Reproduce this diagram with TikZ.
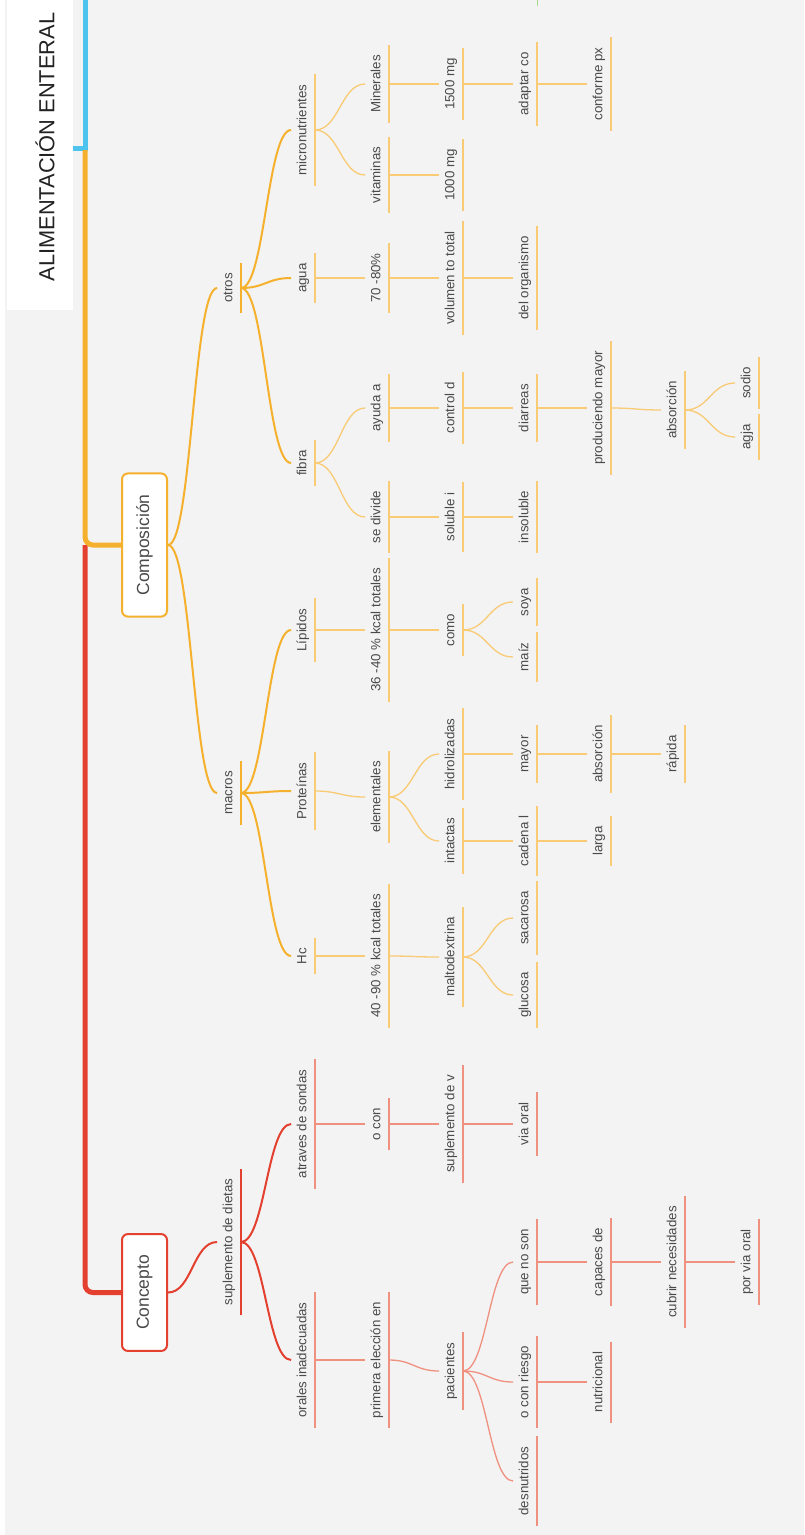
\documentclass[tikz,border=0pt]{standalone}
\usepackage{fontspec}
\setmainfont{Liberation Sans}
\usepackage{xcolor}

\definecolor{bggray}{HTML}{F3F3F3}
\definecolor{labeltxt}{HTML}{4A4A4A}
\definecolor{titletxt}{HTML}{222222}
\definecolor{trunkblue}{HTML}{4EC3EE}
\definecolor{orng}{HTML}{F5B12E}
\definecolor{orngpale}{HTML}{F8CB74}
\definecolor{redd}{HTML}{E3402F}
\definecolor{redpale}{HTML}{F0907F}
\definecolor{tickgreen}{HTML}{A9DB8E}

\begin{document}
\begin{tikzpicture}[x=1pt,y=-1pt,
  topic/.style={rotate=90,anchor=south,text=labeltxt,font=\fontsize{13.3}{15}\selectfont,
    inner xsep=10pt,inner ysep=5.5pt,text height=9.5pt,text depth=3pt},
  bar/.style 2 args={topic,append after command={(\tikzlastnode.south west) edge[draw=#1,line width=#2] (\tikzlastnode.south east)}},
  ohi/.style={bar={orng}{2pt}},
  olo/.style={bar={orngpale}{1.3pt}},
  rhi/.style={bar={redd}{2pt}},
  rlo/.style={bar={redpale}{1.3pt}},
  hub/.style={rotate=90,draw=#1,fill=white,line width=2pt,rounded corners=6pt,text=labeltxt,
    font=\fontsize{17.5}{20}\selectfont,inner xsep=21pt,minimum height=45pt},
  link/.style={line width=#1,to path={.. controls +(24,0) and +(-24,0) .. (\tikztotarget)}},
  ol/.style={draw=orng,link=2pt},
  olp/.style={draw=orngpale,link=1.3pt},
  rl/.style={draw=redd,link=2pt},
  rlp/.style={draw=redpale,link=1.3pt},
  trunk/.style={draw=#1,line width=5pt,rounded corners=8pt}]
\useasboundingbox (0,0) rectangle (804,1535);
\fill[bggray] (5,0) rectangle (804,1535);

% Title
\fill[white] (7,0) rectangle (73,310);
\node[rotate=90,inner sep=0pt,text=titletxt,font=\fontsize{21.8}{24}\selectfont] (title) at (45,147) {ALIMENTACIÓN ENTERAL};
\draw[tickgreen,line width=1pt] (537,0) -- (537,6);

% Central topics
\node[hub=orng] (comp) at (144.5,545) {Composición};
\node[hub=redd] (conc) at (144.5,1292.5) {Concepto};

% Trunk
\coordinate (top) at (85,150);
\coordinate (fork) at (85,545);
\draw[trunk=trunkblue,rounded corners=0pt] (85,0) |- (73,148);
\draw[trunk=redd] (fork) |- (conc.north);
\draw[trunk=orng] (top) |- (comp.north);

% Composicion branch
\node[ohi] (otros) at (241,288) {otros};
\node[ohi] (macros) at (241,793) {macros};
\node[olo] (micro) at (315,130) {micronutrientes};
\node[olo] (agua) at (315,278) {agua};
\node[olo] (fibra) at (315,463) {fibra};
\node[olo] (lipidos) at (315,630) {Lípidos};
\node[olo] (proteinas) at (315,791) {Proteínas};
\node[olo] (hc) at (315,956) {Hc};
\node[olo] (vitaminas) at (389,175) {vitaminas};
\node[olo] (minerales) at (389,84) {Minerales};
\node[olo] (aguapct) at (389,278) {70 -80\%};
\node[olo] (ayuda) at (389,408) {ayuda a};
\node[olo] (divide) at (389,517) {se divide};
\node[olo] (lipkcal) at (389,630) {36 -40 \% kcal totales};
\node[olo] (elementales) at (389,797) {elementales};
\node[olo] (hckcal) at (389,956) {40 -90 \% kcal totales};
\node[olo] (vitmg) at (463,175) {1000 mg};
\node[olo] (minmg) at (463,84) {1500 mg};
\node[olo] (volumen) at (463,278) {volumen to total};
\node[olo] (control) at (463,408) {control d};
\node[olo] (soluble) at (463,517) {soluble i};
\node[olo] (como) at (463,630) {como};
\node[olo] (hidro) at (463,754) {hidrolizadas};
\node[olo] (intactas) at (463,841) {intactas};
\node[olo] (malto) at (463,957) {maltodextrina};
\node[olo] (adaptar) at (537,84) {adaptar co};
\node[olo] (organismo) at (537,278) {del organismo};
\node[olo] (diarreas) at (537,408) {diarreas};
\node[olo] (insoluble) at (537,517) {insoluble};
\node[olo] (soya) at (537,602) {soya};
\node[olo] (maiz) at (537,657) {maíz};
\node[olo] (mayor) at (537,754) {mayor};
\node[olo] (cadena) at (537,841) {cadena l};
\node[olo] (sacarosa) at (537,918) {sacarosa};
\node[olo] (glucosa) at (537,995) {glucosa};
\node[olo] (conforme) at (611,84) {conforme px};
\node[olo] (produciendo) at (611,408) {produciendo mayor};
\node[olo] (absprot) at (611,754) {absorción};
\node[olo] (larga) at (611,841) {larga};
\node[olo] (absfib) at (685,410) {absorción};
\node[olo] (rapida) at (685,754) {rápida};
\node[olo] (sodio) at (759,383) {sodio};
\node[olo] (agja) at (759,437) {agja};

\draw[ol] (comp.south) to (otros.north);
\draw[ol] (comp.south) to (macros.north);
\draw[ol] (otros.south) to (micro.north);
\draw[ol] (otros.south) to (agua.north);
\draw[ol] (otros.south) to (fibra.north);
\draw[ol] (macros.south) to (lipidos.north);
\draw[ol] (macros.south) to (proteinas.north);
\draw[ol] (macros.south) to (hc.north);
\draw[olp] (micro.south) to (vitaminas.north);
\draw[olp] (micro.south) to (minerales.north);
\draw[olp] (vitaminas.south) to (vitmg.north);
\draw[olp] (minerales.south) to (minmg.north);
\draw[olp] (minmg.south) to (adaptar.north);
\draw[olp] (adaptar.south) to (conforme.north);
\draw[olp] (agua.south) to (aguapct.north);
\draw[olp] (aguapct.south) to (volumen.north);
\draw[olp] (volumen.south) to (organismo.north);
\draw[olp] (fibra.south) to (ayuda.north);
\draw[olp] (fibra.south) to (divide.north);
\draw[olp] (ayuda.south) to (control.north);
\draw[olp] (control.south) to (diarreas.north);
\draw[olp] (diarreas.south) to (produciendo.north);
\draw[olp] (produciendo.south) to (absfib.north);
\draw[olp] (absfib.south) to (sodio.north);
\draw[olp] (absfib.south) to (agja.north);
\draw[olp] (divide.south) to (soluble.north);
\draw[olp] (soluble.south) to (insoluble.north);
\draw[olp] (lipidos.south) to (lipkcal.north);
\draw[olp] (lipkcal.south) to (como.north);
\draw[olp] (como.south) to (soya.north);
\draw[olp] (como.south) to (maiz.north);
\draw[olp] (proteinas.south) to (elementales.north);
\draw[olp] (elementales.south) to (hidro.north);
\draw[olp] (elementales.south) to (intactas.north);
\draw[olp] (hidro.south) to (mayor.north);
\draw[olp] (mayor.south) to (absprot.north);
\draw[olp] (absprot.south) to (rapida.north);
\draw[olp] (intactas.south) to (cadena.north);
\draw[olp] (cadena.south) to (larga.north);
\draw[olp] (hc.south) to (hckcal.north);
\draw[olp] (hckcal.south) to (malto.north);
\draw[olp] (malto.south) to (sacarosa.north);
\draw[olp] (malto.south) to (glucosa.north);

% Concepto branch
\node[rhi] (supdietas) at (241,1242) {suplemento de dietas};
\node[rlo] (sondas) at (315,1124) {atraves de sondas};
\node[rlo] (orales) at (315,1360) {orales inadecuadas};
\node[rlo] (ocon) at (389,1124) {o con};
\node[rlo] (primera) at (389,1360) {primera elección en};
\node[rlo] (suplv) at (463,1124) {suplemento de v};
\node[rlo] (pacientes) at (463,1371) {pacientes};
\node[rlo] (viaoral) at (537,1124) {via oral};
\node[rlo] (quenoson) at (537,1262) {que no son};
\node[rlo] (riesgo) at (537,1382) {o con riesgo};
\node[rlo] (desnutridos) at (537,1481) {desnutridos};
\node[rlo] (capaces) at (611,1262) {capaces de};
\node[rlo] (nutricional) at (611,1382) {nutricional};
\node[rlo] (cubrir) at (685,1262) {cubrir necesidades};
\node[rlo] (porvia) at (759,1262) {por via oral};

\draw[rl] (conc.south) to (supdietas.north);
\draw[rl] (supdietas.south) to (sondas.north);
\draw[rl] (supdietas.south) to (orales.north);
\draw[rlp] (sondas.south) to (ocon.north);
\draw[rlp] (ocon.south) to (suplv.north);
\draw[rlp] (suplv.south) to (viaoral.north);
\draw[rlp] (orales.south) to (primera.north);
\draw[rlp] (primera.south) to (pacientes.north);
\draw[rlp] (pacientes.south) to (quenoson.north);
\draw[rlp] (pacientes.south) to (riesgo.north);
\draw[rlp] (pacientes.south) to (desnutridos.north);
\draw[rlp] (quenoson.south) to (capaces.north);
\draw[rlp] (capaces.south) to (cubrir.north);
\draw[rlp] (cubrir.south) to (porvia.north);
\draw[rlp] (riesgo.south) to (nutricional.north);
\end{tikzpicture}
\end{document}
